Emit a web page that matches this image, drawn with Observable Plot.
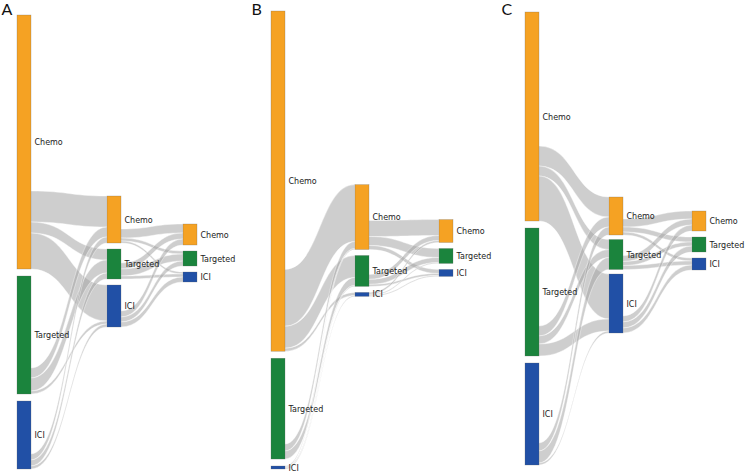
<!DOCTYPE html>
<html><head><meta charset="utf-8">
<script src="https://cdn.jsdelivr.net/npm/d3@7"></script>
<script src="https://cdn.jsdelivr.net/npm/@observablehq/plot@0.6"></script>
<style>
body{margin:0;background:#fff;}
#wrap{display:flex;width:745px;height:472px;overflow:hidden;}
#wrap svg{flex:none;}
</style></head><body><div id="wrap"></div>
<script>
// ---- data (patients per line of therapy) ----
const therapies = ["Chemo", "Targeted", "ICI"];
const therapyColors = ["#F5A223", "#1B843D", "#2150A6"];
const panelNames = ["A", "B", "C"];

// first-line totals, rows of flows = source therapy, columns = target therapy
const firstLineA = [254, 118, 68];
const flowA_1to2 = [[31, 11, 36], [10, 13, 3], [6, 6, 3]];
const flowA_2to3 = [[9, 3, 2], [6, 7, 3], [6, 5, 5]];

const firstLineB = [341, 101, 3];
const flowB_1to2 = [[57, 22, 3], [7, 8, 0], [1, 1, 1]];
const flowB_2to3 = [[16, 9, 4], [5, 5, 2], [2, 1, 1]];

const firstLineC = [209, 128, 102];
const flowC_1to2 = [[20, 10, 45], [10, 8, 12], [8, 12, 2]];
const flowC_2to3 = [[8, 5, 3], [6, 4, 4], [6, 6, 5]];

// ---- layout settings (column left edges, vertical extent, column offsets, padding) ----
const nodeWidth = 14;
const layoutCfg = {
  A: {width: 250, x: [17, 107, 183], y: [15, 469], colTop: [0, 181, 209], pad: [7, 6, 6]},
  B: {width: 250, x: [21, 105, 189], y: [11, 469], colTop: [0, 174, 209], pad: [7, 6, 6]},
  C: {width: 245, x: [25, 109, 192], y: [12, 465], colTop: [0, 185, 199], pad: [7, 4.5, 6]}
};
const colorOf = Object.fromEntries(therapies.map((t, i) => [t, therapyColors[i]]));

function sankey(first, f12, f23, cfg) {
  const colSum = (m, j) => d3.sum(m, r => r[j]);
  const values = [
    first,
    therapies.map((_, j) => Math.max(colSum(f12, j), d3.sum(f23[j]))),
    therapies.map((_, j) => colSum(f23, j))
  ];
  const nodes = [];
  const grid = [];
  values.forEach((vals, s) => {
    let y = cfg.colTop[s];
    grid[s] = [];
    vals.forEach((v, i) => {
      const n = {stage: s, name: therapies[i], x0: cfg.x[s], x1: cfg.x[s] + nodeWidth, y0: y, y1: y + v};
      nodes.push(n); grid[s][i] = n;
      y += v + cfg.pad[s];
    });
  });
  const rows = [];
  let id = 0;
  [f12, f23].forEach((m, s) => {
    const srcPos = grid[s].map((n, i) => n.y1 - d3.sum(m[i]));
    const tgtPos = grid[s + 1].map(n => n.y0);
    m.forEach((row, i) => row.forEach((v, j) => {
      if (v <= 0) return;
      const a = srcPos[i]; srcPos[i] += v;
      const b = tgtPos[j]; tgtPos[j] += v;
      rows.push({id, x: grid[s][i].x1, t: a, b: a + v});
      rows.push({id, x: grid[s + 1][j].x0, t: b, b: b + v});
      id++;
    }));
  });
  const D = d3.sum(first) + 2 * cfg.pad[0];
  return {nodes, rows, D};
}

const sets = {
  A: [firstLineA, flowA_1to2, flowA_2to3],
  B: [firstLineB, flowB_1to2, flowB_2to3],
  C: [firstLineC, flowC_1to2, flowC_2to3]
};

const wrap = document.getElementById("wrap");
panelNames.forEach(p => {
  const cfg = layoutCfg[p];
  const {nodes, rows, D} = sankey(...sets[p], cfg);
  const chart = Plot.plot({
    width: cfg.width,
    height: 472,
    margin: 0,
    x: {domain: [0, cfg.width], range: [0, cfg.width], axis: null},
    y: {domain: [0, D], range: cfg.y, axis: null},
    marks: [
      Plot.area(rows, {x1: "x", y1: "t", y2: "b", z: "id", curve: "bump-x",
        fill: "#a6a6a6", fillOpacity: 0.55, stroke: "white", strokeWidth: 0.5, strokeOpacity: 0.8}),
      Plot.rect(nodes, {x1: "x0", x2: "x1", y1: "y0", y2: "y1",
        fill: d => colorOf[d.name], stroke: "#666", strokeWidth: 0.5, strokeOpacity: 0.5}),
      Plot.text(nodes, {x: "x1", y: d => (d.y0 + d.y1) / 2, text: "name", textAnchor: "start",
        dx: 3, fontSize: 8, fontFamily: "DejaVu Sans", fill: "#222"}),
      Plot.text([p], {frameAnchor: "top-left", text: d => d, lineAnchor: "top",
        dx: 1, dy: 3, fontSize: 16, fontFamily: "Lato", fill: "#111"})
    ]
  });
  wrap.appendChild(chart);
});
</script></body></html>
